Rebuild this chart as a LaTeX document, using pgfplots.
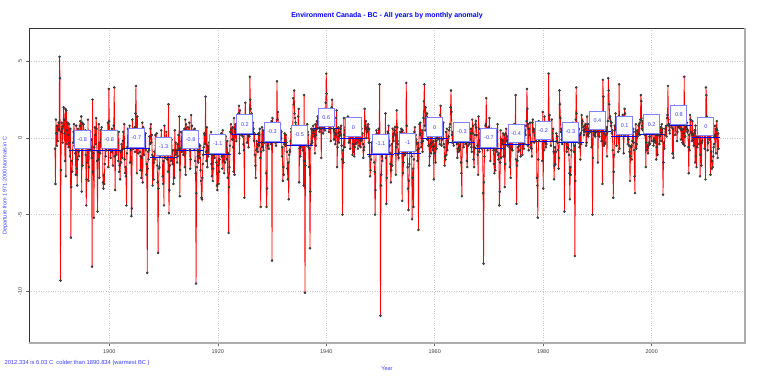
\documentclass[border=0pt]{standalone}
\usepackage{fontspec}
\setmainfont{Liberation Sans}
\usepackage{pgfplots}
\pgfplotsset{compat=1.18}
\usepackage{pgfplotstable}
\definecolor{labblue}{RGB}{60,60,255}
\definecolor{boxblue}{RGB}{130,130,255}
\definecolor{ptgray}{RGB}{80,80,80}

% monthly anomalies, Jan 1890 ... May 2012 (12 values per year)
\pgfplotstableread{
y
-0.7
-3.0
1.2
0.3
-0.5
0.8
-0.2
0.6
1.0
0.5
5.3
3.9
-9.3
-2.1
0.4
1.0
0.6
-0.3
0.8
2.0
1.2
0.3
-1.5
1.9
-2.5
1.8
0.5
-0.4
1.0
0.2
-0.6
0.9
-0.3
-1.2
0.6
-6.5
-3.2
-1.5
-2.2
-0.8
-0.3
0.4
0.9
-0.5
0.2
-1.0
-2.4
0.8
-2.0
-3.1
-1.4
0.6
-0.9
-1.2
0.3
0.8
1.1
0.2
1.4
-3.5
1.0
-1.8
-0.6
0.9
0.1
-0.5
-0.2
0.5
-1.1
-4.4
-2.7
0.4
-1.6
1.2
-2.8
-1.9
-0.7
-0.2
0.4
-0.8
-0.1
-1.3
-8.4
2.5
-2.2
-1.0
-5.2
-0.6
0.7
0.2
-0.4
1.3
0.6
-1.5
-4.8
-0.9
-1.4
0.9
-2.6
-0.3
-1.0
0.5
-0.1
0.7
-0.6
0.2
-2.9
-3.3
-2.4
-3.0
-1.7
-0.5
-1.2
0.3
-0.8
0.1
-0.4
1.0
-1.9
3.2
1.1
-0.7
0.4
-1.3
-0.2
-0.9
0.6
-0.4
-1.8
-0.6
0.8
3.3
-1.2
-3.4
-0.5
0.2
-1.1
-0.6
0.2
-0.3
-1.5
0.4
-2.2
-1.8
-2.7
-0.9
-1.6
-0.4
-0.8
-1.3
-0.2
0.4
-0.7
0.9
-1.4
-2.3
-1.9
-2.5
-4.4
-1.0
-0.6
0.6
-0.3
0.2
-0.5
0.8
-1.6
-0.4
-0.8
-5.1
-4.6
1.2
0.4
-0.7
0.3
-0.2
0.7
-0.9
1.6
3.4
0.6
-2.3
1.4
-0.1
-1.0
-0.4
0.5
0.1
-0.9
-2.1
-1.2
-2.6
-1.3
1.0
-2.9
0.7
-0.5
-1.1
0.2
-0.6
0.3
-0.8
-2.4
-1.7
-8.8
-2.0
-0.9
-1.4
-0.8
0.1
-0.4
0.6
0.9
-0.3
0.2
-1.1
-3.1
-1.2
-2.7
-1.6
-0.9
-1.4
0.2
-0.5
-1.0
0.3
-1.8
-2.9
-7.5
-3.3
-2.0
-1.9
-1.2
-0.4
-0.8
0.5
-0.3
-1.1
-2.5
-3.0
-1.5
-4.4
0.8
-0.6
-1.3
-0.7
0.4
-0.2
-1.4
-0.5
-2.2
2.2
-4.9
-3.4
-1.8
-1.0
-0.6
-1.5
-0.1
-0.9
-1.7
-0.8
-3.0
-1.3
-2.6
0.5
-1.1
-0.3
-0.8
-1.0
-1.6
-0.4
-1.2
0.2
-0.7
1.4
-3.8
-2.1
-0.7
0.4
-0.2
-0.9
-0.5
0.3
-1.1
-0.4
0.6
-1.9
1.2
-2.4
0.9
0.5
0.2
-0.3
0.7
0.4
-0.6
1.0
-0.8
-2.0
-1.4
1.5
0.3
0.8
-0.6
-0.2
0.5
0.1
-0.7
0.6
-1.5
-2.3
-9.5
-3.6
-1.9
-0.8
-1.2
-1.6
-0.4
-0.9
-1.3
-0.5
-2.1
-2.8
-3.9
-4.0
-2.6
-1.7
-1.1
-0.6
0.3
0.2
-0.4
2.7
-0.9
-1.5
0.7
-1.9
-0.5
-1.2
-0.8
-0.3
-0.6
0.1
-1.0
0.4
-1.7
-2.5
-1.1
-2.8
-2.0
-0.9
-0.4
-1.3
0.2
-0.7
-0.2
-1.6
-3.1
-3.4
-1.8
-0.6
-3.0
-2.2
-1.4
-0.9
-0.5
-0.8
0.3
-1.2
-2.0
0.5
-0.4
-1.5
-2.3
-0.7
-1.6
-0.4
0.1
-0.6
-1.4
-0.2
-2.6
-1.0
-6.2
-3.2
-1.9
-0.5
0.4
0.9
0.6
0.3
-0.1
0.7
-0.6
-2.2
1.3
-2.4
0.6
0.9
0.4
-0.2
0.8
0.3
1.1
0.5
1.6
2.1
-1.0
1.8
0.7
0.2
1.4
0.5
0.9
0.1
0.6
-0.4
-0.8
-3.9
1.5
2.3
0.4
1.0
0.7
-0.3
0.5
0.2
-0.6
0.9
0.1
4.0
2.5
1.9
1.2
1.6
0.8
0.4
1.0
0.6
-0.2
0.3
-1.1
-1.8
-2.6
-0.8
-0.2
-0.7
-0.4
-0.9
0.3
-0.5
0.2
0.6
-1.3
-4.5
-0.9
-0.3
0.7
-0.6
0.5
-0.8
0.2
0.4
-0.3
0.1
0.9
-2.3
-4.5
-3.3
0.4
-0.5
-0.2
-0.7
0.3
0.6
0.1
0.8
-0.4
1.1
-8.0
1.3
0.9
0.5
-0.1
0.2
0.7
-0.3
0.4
-0.5
0.3
3.7
1.2
1.7
0.8
0.3
0.6
-0.2
0.9
0.5
0.0
0.4
-1.2
-0.6
-2.8
-1.9
-2.4
-0.4
0.3
-0.1
-0.5
0.2
-0.3
-0.9
-2.0
-2.7
-1.6
-4.0
-1.1
-0.8
-0.9
-0.2
0.4
0.6
0.2
-0.4
0.7
2.6
2.2
3.1
1.6
1.3
1.0
0.3
0.8
0.5
0.1
0.6
1.4
1.9
-2.9
-0.7
-0.3
-1.2
-0.6
-0.1
0.5
-0.2
-0.8
-0.3
-3.1
2.8
-1.5
-10.1
-1.8
0.3
0.7
-0.5
0.9
0.4
0.2
-0.6
-1.9
-0.7
-7.2
-3.5
-0.4
0.6
-0.2
-0.3
0.5
0.8
0.3
0.1
0.5
-1.0
0.9
-0.5
0.2
1.1
0.6
1.4
1.0
0.7
1.2
0.4
0.8
1.7
0.6
-1.3
1.0
0.9
1.5
0.3
0.7
0.8
1.9
0.5
1.1
2.3
4.2
2.9
1.8
1.2
1.3
0.9
0.4
0.8
0.6
1.5
-0.2
0.9
2.0
2.5
1.6
1.1
0.6
-0.1
0.5
0.3
-0.4
0.2
1.3
1.8
-1.9
-0.6
0.3
0.7
-0.3
0.1
0.4
0.6
0.2
0.8
-0.5
-1.4
-5.0
-0.8
-1.6
1.3
0.2
-0.6
0.5
0.7
1.0
0.4
0.9
0.3
1.4
0.6
-0.3
0.5
-0.2
-0.7
0.3
0.8
0.1
0.6
-1.1
-0.4
0.8
-0.9
-1.2
-0.6
0.7
-0.4
0.9
0.2
-0.3
0.5
-0.7
1.0
0.2
-0.5
-0.1
0.4
-0.6
-0.2
0.6
-0.1
0.3
-0.4
-1.3
-0.8
-0.6
1.9
0.8
0.6
1.1
0.0
0.4
0.7
0.5
0.9
-0.3
0.6
-1.2
-2.5
-2.1
-1.4
-0.3
-0.8
-0.6
-0.9
0.1
-0.7
-1.6
-2.2
-5.0
-3.4
-0.9
0.5
0.3
-0.4
-0.2
0.1
0.6
-0.5
3.5
-0.8
-11.6
-3.1
-2.4
-1.2
-1.5
-0.6
-0.3
0.2
-0.1
-0.9
-0.4
1.6
-1.3
-4.3
-2.6
0.2
0.4
0.3
0.8
-0.2
-0.5
-1.0
-1.7
-2.9
-2.1
-0.4
-1.8
0.6
0.1
-0.2
0.3
0.5
0.7
0.2
-2.4
-0.6
1.8
0.7
-0.4
-1.1
-1.3
-0.9
-0.2
-0.5
0.4
0.1
0.6
0.2
-4.1
0.5
-2.3
-1.6
0.3
-0.8
-1.1
-1.0
-0.6
3.6
0.8
-0.9
-1.9
-3.3
-4.7
-2.8
-1.7
-0.9
-0.7
-0.2
-0.5
-1.2
-5.3
-2.6
-2.0
-4.5
-1.4
0.4
0.7
-0.3
0.2
-0.1
-0.4
-0.8
-1.5
-0.3
-6.0
-0.7
0.9
0.2
1.0
0.3
-0.6
-0.3
0.5
-0.9
-0.2
1.3
2.4
3.5
0.8
0.5
2.0
1.2
1.4
1.6
-0.1
0.3
-0.5
1.1
-1.8
-1.2
-0.4
0.3
-1.0
-0.3
0.1
-0.6
-0.8
-0.2
-2.7
-0.5
-1.0
0.9
-1.6
-0.2
-0.7
0.0
0.8
-0.1
0.4
0.2
0.6
-0.4
1.5
2.1
0.3
-0.5
-0.1
0.9
0.7
1.0
-0.4
-0.6
-1.8
-1.2
-1.4
0.4
-1.1
0.6
-0.8
-0.2
-0.3
0.1
0.5
0.7
0.9
2.0
3.1
1.7
0.2
-0.3
0.4
-0.2
-0.5
0.3
0.8
0.6
0.4
0.1
0.6
-0.4
-1.3
-0.7
-0.9
-0.3
-0.6
-0.8
-0.5
0.2
-1.6
-2.3
-3.8
0.9
0.3
0.1
-0.6
-0.2
0.4
0.5
-0.4
0.7
-0.3
-1.5
-1.9
-0.2
-0.5
0.4
0.2
-0.4
-0.1
0.3
0.6
-0.6
-0.9
1.2
0.3
0.8
-1.4
-1.9
-0.6
0.2
0.9
1.1
0.7
0.2
-0.5
-1.1
-2.4
1.4
0.6
-0.9
-0.2
-0.1
0.3
-0.4
-0.3
-0.7
-0.5
-3.6
-8.2
-2.9
-1.2
0.5
0.8
0.9
2.6
0.2
0.4
-0.8
0.6
0.7
-0.5
1.3
0.1
-1.5
-0.4
0.6
0.3
0.0
-0.6
-0.3
-0.8
-1.7
-2.3
-0.6
-2.1
-0.7
-0.2
-0.9
0.4
0.9
-1.1
-1.4
-1.0
-4.4
-3.5
-1.6
0.5
-1.3
-0.1
-0.4
-0.2
0.3
-1.2
-0.7
0.2
-3.2
-1.7
0.3
0.6
-0.2
0.1
-0.5
-0.3
-0.1
0.2
-0.6
-1.9
0.4
-2.6
0.8
-0.7
0.4
-0.8
0.6
-0.1
0.3
0.9
0.1
0.5
2.8
-1.4
-4.3
-1.8
-1.5
-0.6
-0.9
0.4
-0.5
0.1
-0.8
-1.2
-0.3
0.7
0.2
-1.1
0.3
-0.3
-0.7
-0.2
-0.4
0.5
0.2
0.8
1.1
3.2
1.9
-0.5
0.9
-0.8
0.6
0.2
1.0
-0.6
-0.3
-0.7
-1.2
1.0
1.2
0.4
0.6
-0.3
0.2
0.5
0.1
-0.2
0.4
-2.6
-3.1
-5.2
-1.4
1.1
-0.2
0.3
0.1
0.6
0.4
0.8
0.5
-1.5
1.7
-3.3
0.6
-0.8
1.4
0.5
-0.3
-0.6
-0.4
0.2
0.6
0.9
1.0
4.2
0.9
1.5
0.2
0.4
-0.5
0.1
1.2
0.3
-0.2
0.6
-0.9
-2.7
-1.8
-0.6
-1.7
-0.9
0.3
-0.2
0.1
-0.3
-0.8
-2.0
-1.3
3.1
2.2
1.3
0.4
0.6
-0.1
-0.4
0.5
-0.2
0.3
0.8
-4.8
0.9
0.6
0.8
-0.3
-0.9
-0.6
0.2
0.1
-0.7
-1.1
-2.3
-4.0
-1.9
-2.4
-0.8
0.2
0.3
0.4
1.0
-0.2
-0.9
-0.5
-7.7
-2.8
1.2
3.3
1.6
0.1
0.5
0.8
-0.3
0.6
-0.6
0.2
-1.4
0.3
-0.4
1.5
0.9
1.1
0.7
0.5
0.2
0.4
0.8
0.6
0.9
-0.5
-0.3
1.4
0.2
0.9
0.1
0.3
0.6
0.7
0.5
1.2
0.4
-0.6
0.8
-5.0
-1.3
1.0
0.2
0.5
0.3
0.1
0.9
0.4
0.6
0.7
1.3
-1.6
0.6
1.5
0.1
0.4
0.8
1.0
0.6
-0.2
0.9
-3.0
3.8
2.7
-0.5
0.3
-0.4
-0.3
0.2
0.5
0.7
-1.2
0.4
1.1
3.9
3.1
2.2
1.3
1.4
1.1
0.8
1.0
0.3
0.5
-0.8
-3.9
-2.2
-1.1
0.8
0.5
1.6
0.6
-0.5
0.9
0.7
1.2
-0.9
1.4
3.5
-0.7
1.3
1.0
0.6
0.2
0.9
1.1
1.5
0.3
-1.0
0.8
1.9
1.6
0.2
0.7
1.0
0.4
0.3
-0.4
0.8
-0.1
-0.5
-0.9
-2.8
-1.2
-0.6
-0.5
-1.4
-0.2
0.4
0.6
-0.3
-0.8
-2.5
-3.6
0.4
0.9
-0.7
-0.4
0.5
0.1
0.3
0.8
0.9
0.2
1.0
1.2
2.8
2.4
0.6
0.8
1.1
0.5
1.3
1.0
0.7
0.2
0.4
-1.9
-0.3
0.5
-0.8
-0.6
-1.0
-0.5
-0.3
0.1
-0.4
0.3
1.1
0.9
-0.2
0.7
0.4
0.6
-0.5
-0.1
-0.2
0.3
-0.3
0.2
-1.4
-0.6
1.2
-1.1
1.0
0.2
0.5
-0.4
0.1
0.7
0.3
-0.2
0.9
0.4
0.6
-3.7
-1.6
-0.3
-0.7
0.2
0.6
0.4
0.8
0.1
1.3
1.5
3.4
0.9
0.8
0.5
0.3
0.9
1.2
1.4
0.7
1.1
-1.0
0.6
-1.3
1.8
2.1
1.5
0.2
1.0
1.3
1.1
-0.2
0.4
0.8
1.2
0.7
1.4
2.0
0.6
1.1
-0.1
0.5
0.9
-0.3
0.6
-0.4
0.3
4.0
-0.5
0.1
0.8
0.7
0.6
1.0
0.4
0.5
-0.6
-2.3
0.2
-0.8
1.5
1.2
0.4
0.3
-0.2
1.1
0.2
-0.1
-0.5
0.3
0.5
-1.6
0.8
-1.2
-1.9
0.1
-0.6
0.5
0.3
0.2
-0.4
1.0
-2.5
-1.1
0.4
-1.8
-0.3
-0.2
0.7
1.1
0.9
1.2
-0.7
0.8
-2.7
3.3
2.8
1.4
0.6
-0.8
-0.3
0.4
0.5
-0.1
0.6
-2.4
0.3
-0.9
-2.0
-1.5
-1.9
-1.2
-0.6
-0.4
0.1
0.8
0.2
-1.0
0.6
1.1
0.5
-1.3
0.3
-0.7
}\anom

% five-year means: centre year, mean, label
\pgfplotstableread{
c m lab
1895 -0.8 -0.8
1900 -0.8 -0.8
1905 -0.7 -0.7
1910 -1.25 -1.3
1915 -0.8 -0.8
1920 -1.1 -1.1
1925 0.2 0.2
1930 -0.3 -0.3
1935 -0.5 -0.5
1940 0.65 0.6
1945 0.0 0
1950 -1.1 -1.1
1955 -1.0 -1
1960 0.0 0
1965 -0.3 -0.3
1970 -0.7 -0.7
1975 -0.4 -0.4
1980 -0.2 -0.2
1985 -0.3 -0.3
1990 0.45 0.4
1995 0.1 0.1
2000 0.2 0.2
2005 0.8 0.8
2010 0.05 0
}\blocks

\begin{document}
\begin{tikzpicture}
\useasboundingbox (0,0) rectangle (760pt,379pt);
\begin{axis}[
  at={(29pt,36pt)}, anchor=south west,
  scale only axis, width=716pt, height=315pt,
  xmin=1885.2, xmax=2017.2, ymin=-13.38, ymax=7.18,
  clip=false,
  axis line style={black!80, line width=0.7pt},
  xtick={1900,1920,1940,1960,1980,2000},
  xticklabels={1900,1920,1940,1960,1980,2000},
  ytick={-10,-5,0,5}, yticklabels={-10,-5,0,5},
  xtick pos=left, ytick pos=left,
  tick align=outside, major tick length=3.5pt,
  tick style={black!60, line width=0.5pt},
  grid=major,
  major grid style={black!22, line width=0.5pt, dash pattern=on 0.8pt off 1.6pt},
  ticklabel style={font=\fontsize{5.5}{6}\selectfont, text=black!75},
  yticklabel style={rotate=90, anchor=south},
  /pgf/number format/assume math mode=true,
  xlabel={Year},
  xlabel style={at={(axis description cs:0.5,-0.0867)}, anchor=base, font=\fontsize{5.5}{6}\selectfont, text=labblue},
  ylabel={Departure from 1971-2000 Normals in C},
  ylabel style={at={(axis description cs:-0.0313,0.5)}, anchor=base, font=\fontsize{5.5}{6}\selectfont, text=labblue},
]
\addplot[red, line width=0.8pt, mark=*, mark size=1.1pt,
  mark options={draw=black!85, fill=ptgray, line width=0.3pt, solid}]
  table[x expr=1890+\coordindex/12, y=y] {\anom};
\addplot[blue, line width=0.9pt, unbounded coords=jump] coordinates {
 (1892.5,-0.8) (1897.5,-0.8) (1897.5,nan)
 (1897.5,-0.8) (1902.5,-0.8) (1902.5,nan)
 (1902.5,-0.7) (1907.5,-0.7) (1907.5,nan)
 (1907.5,-1.25) (1912.5,-1.25) (1912.5,nan)
 (1912.5,-0.8) (1917.5,-0.8) (1917.5,nan)
 (1917.5,-1.1) (1922.5,-1.1) (1922.5,nan)
 (1922.5,0.2) (1927.5,0.2) (1927.5,nan)
 (1927.5,-0.3) (1932.5,-0.3) (1932.5,nan)
 (1932.5,-0.5) (1937.5,-0.5) (1937.5,nan)
 (1937.5,0.65) (1942.5,0.65) (1942.5,nan)
 (1942.5,0.0) (1947.5,0.0) (1947.5,nan)
 (1947.5,-1.1) (1952.5,-1.1) (1952.5,nan)
 (1952.5,-1.0) (1957.5,-1.0) (1957.5,nan)
 (1957.5,0.0) (1962.5,0.0) (1962.5,nan)
 (1962.5,-0.3) (1967.5,-0.3) (1967.5,nan)
 (1967.5,-0.7) (1972.5,-0.7) (1972.5,nan)
 (1972.5,-0.4) (1977.5,-0.4) (1977.5,nan)
 (1977.5,-0.2) (1982.5,-0.2) (1982.5,nan)
 (1982.5,-0.3) (1987.5,-0.3) (1987.5,nan)
 (1987.5,0.45) (1992.5,0.45) (1992.5,nan)
 (1992.5,0.1) (1997.5,0.1) (1997.5,nan)
 (1997.5,0.2) (2002.5,0.2) (2002.5,nan)
 (2002.5,0.8) (2007.5,0.8) (2007.5,nan)
 (2007.5,0.05) (2012.5,0.05)
};
\addplot[only marks, mark=none, nodes near coords, point meta=explicit symbolic,
  nodes near coords style={anchor=south, draw=boxblue, fill=white, line width=1pt,
    minimum width=16pt, minimum height=18.5pt, inner sep=0pt, yshift=1pt,
    font=\fontsize{5.5}{6}\selectfont, text=labblue}]
  table[x=c, y=m, meta=lab] {\blocks};
\draw[gray!65, line width=1.3pt] (rel axis cs:0,0) -- (rel axis cs:1,0) -- (rel axis cs:1,1);
\node[anchor=base, font=\fontsize{7}{8}\selectfont\bfseries, text=blue]
  at (axis description cs:0.5,1.034) {Environment Canada - BC - All years by monthly anomaly};
\node[anchor=base west, font=\fontsize{5.8}{7}\selectfont, text=labblue]
  at (axis description cs:-0.0391,-0.0667) {2012.334 is 6.03 C\ \ colder than 1890.834 (warmest BC )};
\end{axis}
\end{tikzpicture}
\end{document}
